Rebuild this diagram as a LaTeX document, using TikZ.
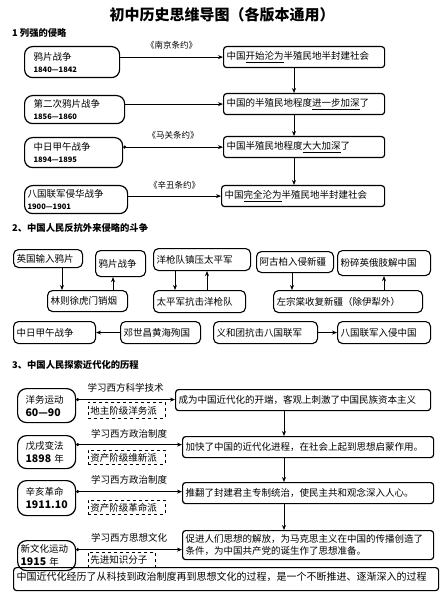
\documentclass[tikz,border=0pt]{standalone}
\usepackage{fontspec}
\setmainfont{Noto Sans CJK SC}
\usetikzlibrary{arrows.meta}
\newcommand\yrfont{\bfseries\fontsize{7.5}{9}\selectfont}
\newcommand\bigyr{\bfseries\fontsize{10.5}{12}\selectfont}
\begin{document}
\begin{tikzpicture}[x=1pt, y=-1pt, font=\fontsize{9.5}{12}\selectfont, line join=round,
	box/.style={draw, line width=1.2pt, anchor=north west, align=left, inner xsep=3pt, inner ysep=0pt},
	war/.style={box, rounded corners=8pt, inner xsep=9pt},
	res/.style={box, rounded corners=3pt, minimum height=21pt},
	ev/.style={box, rounded corners=5pt, line width=1.1pt},
	era/.style={box, rounded corners=9pt, inner xsep=8pt},
	who/.style={draw, dashed, line width=0.8pt, anchor=north west, align=left, inner xsep=2pt, inner ysep=0pt},
	head/.style={anchor=west, inner sep=0pt, font=\bfseries\fontsize{9.3}{11}\selectfont},
	lbl/.style={inner sep=0pt, font=\fontsize{8.5}{9}\selectfont},
	arr/.style={-{Stealth[length=5pt,width=4pt]}, line width=0.9pt},
	dotarr/.style={{Circle[length=3pt]}-{Stealth[length=5pt,width=4pt]}, line width=0.9pt}]
	\useasboundingbox (0,0) rectangle (443,609);
	\node (title) at (222,15) {\bfseries\fontsize{15}{15}\selectfont 初中历史思维导图（各版本通用）};
	% 1 列强的侵略
	\node[head] (h1) at (12,33) {1 列强的侵略};
	\node[war, text width=77pt, minimum height=31pt] (w1) at (24,46) {鸦片战争\\{\yrfont 1840—1842}};
	\node[war, text width=82pt, minimum height=28pt] (w2) at (24,95) {第二次鸦片战争\\{\yrfont 1856—1860}};
	\node[war, text width=80pt, minimum height=30pt] (w3) at (24,137) {中日甲午战争\\{\yrfont 1894—1895}};
	\node[war, inner xsep=3pt, text width=97pt, minimum height=28pt] (w4) at (24,185) {八国联军侵华战争\\{\yrfont 1900—1901}};
	\node[res, text width=155pt] (r1) at (223,46) {中国\underline{开始沦为}半殖民地半封建社会};
	\node[res, text width=155pt] (r2) at (223,93) {中国的半殖民地程度\underline{进一步加深}了};
	\node[res, text width=155pt] (r3) at (223,136) {中国半殖民地程度\underline{大大加深}了};
	\node[res, text width=157pt] (r4) at (221,185) {中国\underline{完全沦为}半殖民地半封建社会};
	\draw[arr] (w1.east |- r1.west) -- (r1.west) node[lbl, midway, above=7.5pt] (t1) {《南京条约》};
	\draw[arr] (w2.east |- r2.west) -- (r2.west);
	\draw[dotarr] (w3.east |- r3.west) -- (r3.west) node[lbl, midway, above=7.5pt] (t2) {《马关条约》};
	\draw[arr] (w4.east |- r4.west) -- (r4.west) node[lbl, midway, above=6.5pt] (t3) {《辛丑条约》};
	\coordinate (v1) at (294,0);
	\foreach \a/\b in {r1/r2, r2/r3, r3/r4}
		\draw[arr] (\a.south -| v1) -- (\b.north -| v1);
	% 2 反抗外来侵略
	\node[head] (h2) at (12,228) {2、中国人民反抗外来侵略的斗争};
	\node[ev, text width=63pt, minimum height=18pt] (b1) at (13,249) {英国输入鸦片};
	\node[ev, text width=44pt, minimum height=26pt] (b2) at (95,250) {鸦片战争};
	\node[ev, text width=74pt, minimum height=21pt] (b3) at (47,290) {林则徐虎门销烟};
	\node[ev, text width=91pt, minimum height=22pt] (b4) at (153,248) {洋枪队镇压太平军};
	\node[ev, text width=86pt, minimum height=22pt] (b5) at (153,290) {太平军抗击洋枪队};
	\node[ev, text width=71pt, minimum height=21pt] (b6) at (256,251) {阿古柏入侵新疆};
	\node[ev, text width=87pt, minimum height=25pt] (b7) at (337,250) {粉碎英俄肢解中国};
	\node[ev, text width=143pt, minimum height=22pt] (b8) at (273,290) {左宗棠收复新疆（除伊犁外）};
	\node[ev, text width=76pt, minimum height=22pt] (b9) at (13,321) {中日甲午战争};
	\node[ev, text width=74pt, minimum height=22pt] (b10) at (120,321) {邓世昌黄海殉国};
	\node[ev, text width=98pt, minimum height=22pt] (b11) at (213,321) {义和团抗击八国联军};
	\node[ev, text width=87pt, minimum height=22pt] (b12) at (337,321) {八国联军入侵中国};
	\coordinate (x1) at (62,0); \coordinate (x2) at (113,0); \coordinate (x3) at (175,0);
	\coordinate (x4) at (207,0); \coordinate (x5) at (292,0); \coordinate (x6) at (384,0);
	\draw[arr] (b1.south -| x1) -- (b3.north -| x1);
	\draw[arr] (b3.north -| x2) -- (b2.south -| x2);
	\draw[arr] (b4.south -| x3) -- (b5.north -| x3);
	\draw[arr] (b5.north -| x4) -- (b4.south -| x4);
	\draw[arr] (b6.south -| x5) -- (b8.north -| x5);
	\draw[arr] (b8.north -| x6) -- (b7.south -| x6);
	\draw[arr] (b10.west) -- (b9.east);
	\draw[arr] (b11.east) -- (b12.west);
	% 3 探索近代化
	\node[head] (h3) at (12,365) {3、中国人民探索近代化的历程};
	\node[era, text width=42pt, minimum height=34pt] (e1) at (17,388) {洋务运动\\[1pt]{\bigyr 60—90}};
	\node[era, text width=42pt, minimum height=33pt] (e2) at (17,435) {戊戌变法\\[1pt]{\bigyr 1898} 年};
	\node[era, text width=42pt, minimum height=35pt] (e3) at (17,480) {辛亥革命\\[1pt]{\bigyr 1911.10}};
	\node[era, inner xsep=3pt, text width=52pt, minimum height=30pt] (e4) at (17,540) {新文化运动\\[1pt]{\bigyr 1915} 年};
	\node[res, text width=249pt] (s1) at (175,389) {成为中国近代化的开端，客观上刺激了中国民族资本主义};
	\node[res, text width=245pt] (s2) at (182,436) {加快了中国的近代化进程，在社会上起到思想启蒙作用。};
	\node[res, text width=245pt] (s3) at (182,482) {推翻了封建君主专制统治，使民主共和观念深入人心。};
	\node[res, text width=245pt, minimum height=29pt, align=left] (s4) at (182,530) {促进人们思想的解放，为马克思主义在中国的传播创造了\\条件，为中国共产党的诞生作了思想准备。};
	\coordinate (a1) at ([yshift=6pt]e1.east);
	\coordinate (a2) at ([yshift=7.5pt]e2.east);
	\coordinate (a3) at ([yshift=6.5pt]e3.east);
	\coordinate (a4) at ([yshift=6pt]e4.east);
	\draw[dotarr] (a1) -- (a1 -| s1.west) node[midway, above=6.5pt, inner sep=0pt] (l1) {学习西方科学技术};
	\draw[dotarr] (a2) -- (a2 -| s2.west) node[midway, above=6pt, inner sep=0pt] (l2) {学习西方政治制度};
	\draw[dotarr] (a3) -- (a3 -| s3.west) node[midway, above=7pt, inner sep=0pt] (l3) {学习西方政治制度};
	\draw[dotarr] (a4) -- (a4 -| s4.west) node[midway, above=7pt, inner sep=0pt] (l4) {学习西方思想文化};
	\node[who, text width=73pt, minimum height=16pt] (d1) at (88,402) {地主阶级洋务派};
	\node[who, text width=73pt, minimum height=14pt] (d2) at (88,450) {资产阶级维新派};
	\node[who, text width=73pt, minimum height=14pt] (d3) at (88,500) {资产阶级革命派};
	\node[who, text width=63pt, minimum height=15pt] (d4) at (88,552) {先进知识分子};
	\coordinate (v2) at (284,0);
	\foreach \a/\b in {s1/s2, s2/s3, s3/s4}
		\draw[arr] (\a.south -| v2) -- (\b.north -| v2);
	\node[box, rounded corners=3pt, text width=419pt, minimum height=23pt, text depth=6pt, font=\fontsize{10}{12}\selectfont] (sum) at (13,567) {中国近代化经历了从科技到政治制度再到思想文化的过程，是一个不断推进、逐渐深入的过程};
\end{tikzpicture}
\end{document}
